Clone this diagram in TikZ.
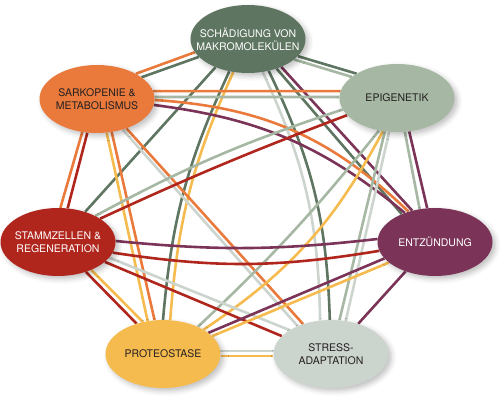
\documentclass[tikz,border=0pt]{standalone}
\usepackage{fontspec}
\setmainfont{TeX Gyre Heros}
\usepackage{tikz}
\usetikzlibrary{shapes.geometric,backgrounds,shadows.blur}

\definecolor{cdmg}{HTML}{5E7561}
\definecolor{cepi}{HTML}{A6B8A3}
\definecolor{csark}{HTML}{E97A3C}
\definecolor{cstem}{HTML}{B0261D}
\definecolor{cinfl}{HTML}{7B3457}
\definecolor{cprot}{HTML}{F6BB4E}
\definecolor{cstress}{HTML}{CCD4CE}
\definecolor{ctext}{HTML}{231F20}

\begin{document}
\begin{tikzpicture}[x=1pt, y=1pt,
		blob/.style={ellipse, minimum width=115pt, minimum height=68pt, inner xsep=-14pt, inner ysep=-8pt,
			align=center, text=ctext, font=\fontsize{10.5}{13}\selectfont,
			blur shadow={shadow xshift=3pt, shadow yshift=-3pt, shadow blur radius=5pt, shadow opacity=25}},
		link/.style={line width=2.6pt}]
		\path[use as bounding box] (0,0) rectangle (502,402);
		\node[blob, fill=cdmg, text=white] (dmg) at (248,363) {SCHÄDIGUNG VON\\MAKROMOLEKÜLEN};
		\node[blob, fill=cepi] (epi) at (397,304) {EPIGENETIK};
		\node[blob, fill=csark] (sark) at (97,303) {SARKOPENIE \&\\METABOLISMUS};
		\node[blob, fill=cstem, text=white] (stem) at (58,160) {STAMMZELLEN \&\\REGENERATION};
		\node[blob, fill=cinfl, text=white] (infl) at (435,160) {ENTZÜNDUNG};
		\node[blob, fill=cprot] (prot) at (163,48) {PROTEOSTASE};
		\node[blob, fill=cstress] (stress) at (331,48) {STRESS-\\ADAPTATION};
		\begin{scope}[on background layer]
		\path[link]
		(dmg.194) edge[csark] (sark.33)
		(dmg.200) edge[cdmg] (sark.26)
		(dmg.-19) edge[cdmg] (epi.149)
		(dmg.-24) edge[cepi] (epi.155)
		(dmg.221) edge[cdmg] (stem.48)
		(dmg.-46) edge[cdmg] (infl.140)
		(dmg.-40) edge[cinfl] (infl.126)
		(dmg.240) edge[cdmg, bend right=10] (prot.90)
		(dmg.246) edge[cprot, bend right=10] (prot.78)
		(dmg.-57) edge[cdmg, bend left=12] (stress.92)
		(dmg.-66) edge[cstress, bend left=12] (stress.108)
		(sark.8) edge[csark] (epi.173)
		(sark.2) edge[cepi] (epi.179)
		(sark.-1) edge[csark, bend left=20] (infl.131)
		(sark.-6) edge[cinfl, bend left=16] (infl.136)
		(sark.246) edge[csark] (stem.86)
		(sark.254) edge[cstem] (stem.74)
		(sark.-74) edge[cprot] (prot.115)
		(sark.-66) edge[csark] (prot.104)
		(sark.-50) edge[cstress] (stress.140)
		(sark.-45) edge[csark] (stress.133)
		(epi.192) edge[cepi, bend right=5] (stem.35)
		(epi.199) edge[cstem, bend right=2] (stem.29)
		(epi.241) edge[cepi, bend left=4] (prot.38)
		(epi.247) edge[cprot, bend left=14] (prot.31)
		(epi.250) edge[cepi] (stress.76)
		(epi.257) edge[cstress] (stress.66)
		(epi.-77) edge[cepi] (infl.115)
		(epi.-70) edge[cinfl] (infl.103)
		(stem.1) edge[cinfl, bend right=6] (infl.177)
		(stem.-11) edge[cstem, bend right=9] (infl.189)
		(stem.-47) edge[cstem] (prot.131)
		(stem.-40) edge[cprot] (prot.122)
		(stem.-17) edge[cstress] (stress.150)
		(stem.-23) edge[cstem] (stress.160)
		(infl.198) edge[cinfl] (prot.25)
		(infl.204) edge[cprot] (prot.20)
		(infl.225) edge[cinfl] (stress.48)
		(prot.3) edge[cstress] (stress.177)
		(prot.-2) edge[cprot] (stress.182)
		;
		\end{scope}
\end{tikzpicture}
\end{document}
